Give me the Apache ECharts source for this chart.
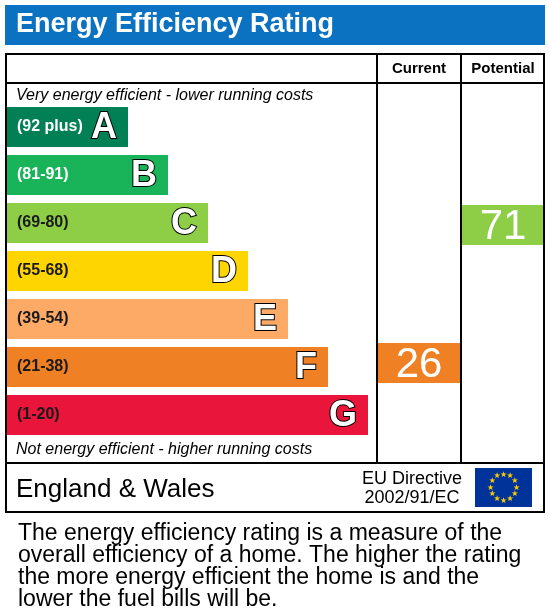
<!DOCTYPE html><html><head><meta charset="utf-8">
<script src="https://cdn.jsdelivr.net/npm/echarts@6/dist/echarts.min.js"></script>
<style>body{margin:0}#c{width:549px;height:613px}</style></head><body><div id="c"></div><script>
const bands=['A','B','C','D','E','F','G'];
const ranges=['(92 plus)','(81-91)','(69-80)','(55-68)','(39-54)','(21-38)','(1-20)'];
const barLengths=[121,161,201,241,281,321,361];
const colors=['#008054','#19b459','#8dce46','#ffd500','#fcaa65','#ef8023','#e9153b'];
const rangeColors=['#fff','#fff','#1a1a1a','#1a1a1a','#1a1a1a','#1a1a1a','#1a1a1a'];
const currentRating=26, currentBand='F';
const potentialRating=71, potentialBand='C';
const F='Liberation Sans, Arial, sans-serif';
const c=echarts.init(document.getElementById('c'));
const cat={type:'category',data:bands,inverse:true,show:false};
function marker(band,val,color){return bands.map(b=>b===band?{value:1,itemStyle:{color:color},label:{show:true,formatter:String(val)}}:null);}
c.setOption({animation:false,
grid:[{left:7,width:538,top:103,height:336},{left:378,width:82,top:99,height:336},{left:462,width:82,top:105,height:336}],
xAxis:[{type:'value',min:0,max:538,show:false,gridIndex:0},{type:'value',min:0,max:1,show:false,gridIndex:1},{type:'value',min:0,max:1,show:false,gridIndex:2}],
yAxis:[Object.assign({gridIndex:0},cat),Object.assign({gridIndex:1},cat),Object.assign({gridIndex:2},cat)],
series:[
{type:'bar',barWidth:40,data:barLengths.map((v,i)=>({value:v,itemStyle:{color:colors[i]},label:{color:rangeColors[i]}})),
 label:{show:true,position:'insideLeft',offset:[5,0],fontFamily:F,fontWeight:'bold',fontSize:16,formatter:p=>ranges[p.dataIndex]}},
{type:'bar',xAxisIndex:1,yAxisIndex:1,barWidth:40,data:marker(currentBand,currentRating,'#ef8023'),
 label:{position:'inside',offset:[0,2],fontFamily:F,fontSize:42,color:'#fff'}},
{type:'bar',xAxisIndex:2,yAxisIndex:2,barWidth:40,data:marker(potentialBand,potentialRating,'#8dce46'),
 label:{position:'inside',offset:[0,2],fontFamily:F,fontSize:42,color:'#fff'}}
],
graphic:[
{type:'rect',z:100,shape:{x:5,y:5,width:540,height:40},style:{fill:'#0a72c0'}},
{type:'text',z:100,x:16,y:25,style:{text:'Energy Efficiency Rating',fill:'#fff',font:'bold 27px '+F,textVerticalAlign:'middle'}},
{type:'rect',z:100,shape:{x:6,y:54,width:538,height:458},style:{fill:'none',stroke:'#000',lineWidth:2}},
{type:'line',z:100,shape:{x1:377,y1:54,x2:377,y2:463},style:{stroke:'#000',lineWidth:2}},
{type:'line',z:100,shape:{x1:461,y1:54,x2:461,y2:463},style:{stroke:'#000',lineWidth:2}},
{type:'line',z:100,shape:{x1:6,y1:83,x2:544,y2:83},style:{stroke:'#000',lineWidth:2}},
{type:'line',z:100,shape:{x1:6,y1:463,x2:544,y2:463},style:{stroke:'#000',lineWidth:2}},
{type:'text',z:100,x:419,y:69,style:{text:'Current',fill:'#000',font:'bold 15px '+F,textAlign:'center',textVerticalAlign:'middle'}},
{type:'text',z:100,x:503,y:69,style:{text:'Potential',fill:'#000',font:'bold 15px '+F,textAlign:'center',textVerticalAlign:'middle'}},
{type:'text',z:100,x:16,y:96,style:{text:'Very energy efficient - lower running costs',fill:'#000',font:'italic 16px '+F,textVerticalAlign:'middle'}},
{type:'text',z:100,x:16,y:450,style:{text:'Not energy efficient - higher running costs',fill:'#000',font:'italic 16px '+F,textVerticalAlign:'middle'}},
...bands.map((b,i)=>({type:'text',z:100,x:7+barLengths[i]-11,y:128+48*i,style:{text:b,fill:'#fff',stroke:'#000',lineWidth:2,font:'bold 36px '+F,textAlign:'right',textVerticalAlign:'middle'}})),
{type:'text',z:100,x:16,y:490,style:{text:'England & Wales',fill:'#000',font:'26px '+F,textVerticalAlign:'middle'}},
{type:'text',z:100,x:412,y:479,style:{text:'EU Directive',fill:'#000',font:'18px '+F,textAlign:'center',textVerticalAlign:'middle'}},
{type:'text',z:100,x:412,y:498,style:{text:'2002/91/EC',fill:'#000',font:'18px '+F,textAlign:'center',textVerticalAlign:'middle'}},
{type:'rect',z:100,shape:{x:475,y:468,width:57,height:39},style:{fill:'#003399'}},
...Array.from({length:12},(_,k)=>{const a=k*Math.PI/6;return {type:'text',z:101,x:503.5+13*Math.sin(a),y:487.5-13*Math.cos(a),style:{text:'★',fill:'#ffcc00',font:'8px DejaVu Sans',textAlign:'center',textVerticalAlign:'middle'}};}),
{type:'text',z:100,x:18,y:523,style:{text:'The energy efficiency rating is a measure of the\noverall efficiency of a home. The higher the rating\nthe more energy efficient the home is and the\nlower the fuel bills will be.',fill:'#000',font:'23px '+F,lineHeight:22}}
]});
</script></body></html>
